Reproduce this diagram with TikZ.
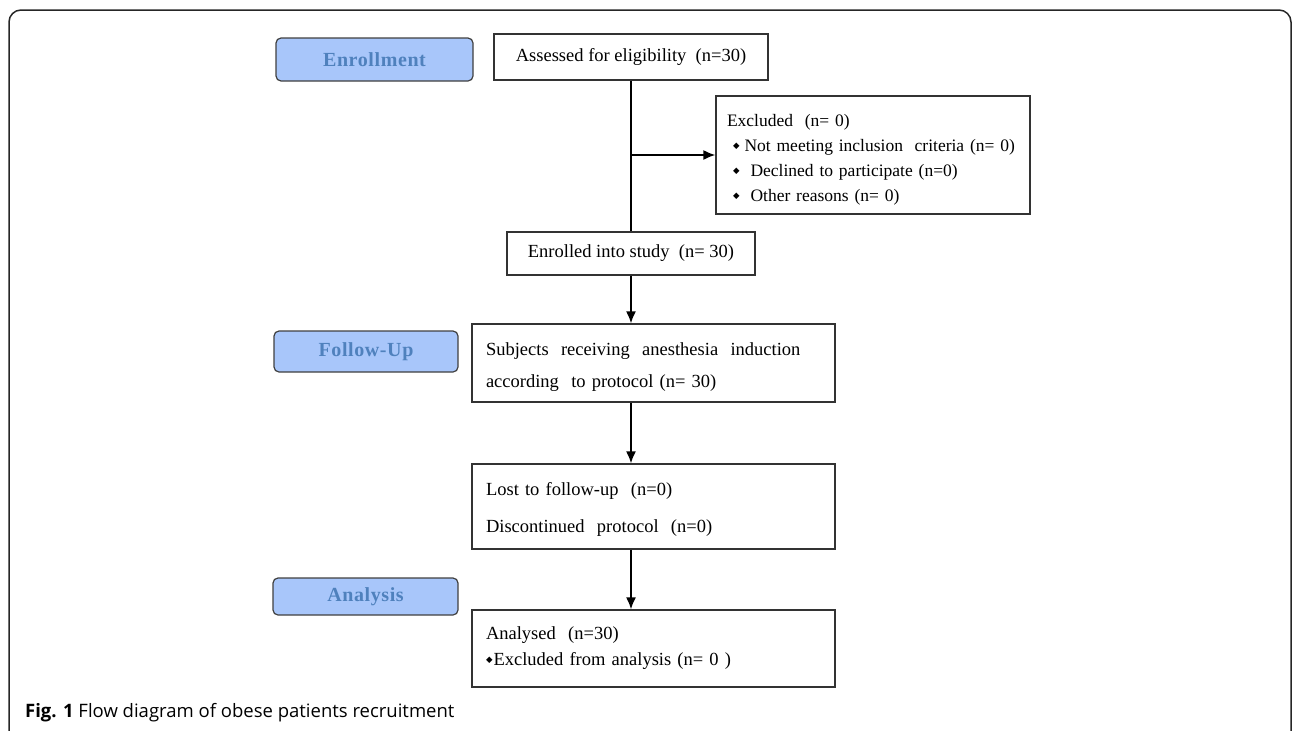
\documentclass[tikz,border=0pt]{standalone}
\usepackage{fontspec}
\setmainfont{Liberation Serif}
\newfontfamily\capfont{Open Sans}
\newfontfamily\symfont{DejaVu Sans}
\newfontfamily\phasefont[LetterSpace=3]{Liberation Serif}
\usepackage{tikz}
\usetikzlibrary{positioning,
        arrows.meta}
\usepackage{xcolor}
\definecolor{phasefill}{RGB}{168,198,250}
\definecolor{phasetext}{RGB}{79,129,189}
\newcommand{\dmd}{\raisebox{3pt}{\symfont\fontsize{8.5}{8.5}\selectfont ◆}}

\begin{document}
\begin{tikzpicture}[x=1pt,y=-1pt,
        phase/.style={rectangle,rounded corners=5pt,draw=black!75,line width=1.2pt,fill=phasefill,
            text=phasetext,font=\phasefont\bfseries\fontsize{20}{24}\selectfont,inner sep=0pt},
        box/.style={rectangle,draw=black!80,line width=1.2pt,font=\fontsize{18.5}{24}\selectfont,inner sep=0pt,align=center},
        lbox/.style={box,align=left,inner xsep=14pt},
        flow/.style={-{Latex[length=12pt,width=10pt]},line width=1.8pt}]
            \useasboundingbox (0,0) rectangle (1296,731);
            \draw [line width=1.5pt,rounded corners=12pt,black!85] (9,731) -- (9,10) -- (1291,10) -- (1291,731);

            \node [phase,minimum width=197pt,minimum height=43pt] (enroll) at (374.5,59.5) {Enrollment};
            \node [phase,minimum width=184pt,minimum height=41pt] (follow) at (366,351.5) {Follow-Up};
            \node [phase,minimum width=185pt,minimum height=37pt] (analysis) at (365.5,596.5) {Analysis};

            \node [box,minimum width=274pt,minimum height=46pt] (assess) at (631,57) {Assessed for eligibility\ \ (n=30)};
            \node [lbox,inner xsep=11pt,text width=292pt,minimum height=118pt,font=\fontsize{17.5}{25}\selectfont] (excl) at (873,155)
                {\rule{0pt}{21pt}Excluded\ \ (n= 0)\\
                \hspace*{6pt}\dmd\hspace{5pt}Not meeting inclusion\ \ criteria (n= 0)\\
                \hspace*{6pt}\dmd\hspace{11pt}Declined to participate (n=0)\\
                \hspace*{6pt}\dmd\hspace{11pt}Other reasons (n= 0)};
            \node [box,minimum width=248pt,minimum height=43pt] (enrolled) at (631,253.5) {Enrolled into study\ \ (n= 30)};
            \node [lbox,text width=335pt,minimum height=78pt] (subj) at (653.5,363)
                {\rule{0pt}{20pt}Subjects\ \ receiving\ \ anesthesia\ \ induction\\[8pt]
                according\ \ to protocol (n= 30)};
            \node [lbox,text width=335pt,minimum height=85pt] (lost) at (653.5,506.5)
                {\rule{0pt}{19pt}Lost to follow-up\ \ (n=0)\\[13pt]
                Discontinued\ \ protocol\ \ (n=0)};
            \node [lbox,text width=335pt,minimum height=77pt] (analysed) at (653.5,648.5)
                {Analysed\ \ (n=30)\\[2pt]
                \dmd\hspace{1pt}Excluded from analysis (n= 0 )};

            \node [anchor=base west,inner sep=0pt,font=\capfont\fontsize{18.5}{22}\selectfont] (caption) at (25,717)
                {\textbf{Fig. 1} Flow diagram of obese patients recruitment};

            \coordinate (split) at (assess.south |- excl.west);
            \draw [line width=1.8pt] (assess.south) -- (enrolled.north);
            \draw [flow] (split) -- (excl.west);
            \draw [flow] (enrolled.south) -- (enrolled.south |- subj.north);
            \draw [flow] (enrolled.south |- subj.south) -- (enrolled.south |- lost.north);
            \draw [flow] (enrolled.south |- lost.south) -- (enrolled.south |- analysed.north);
        \end{tikzpicture}
\end{document}
